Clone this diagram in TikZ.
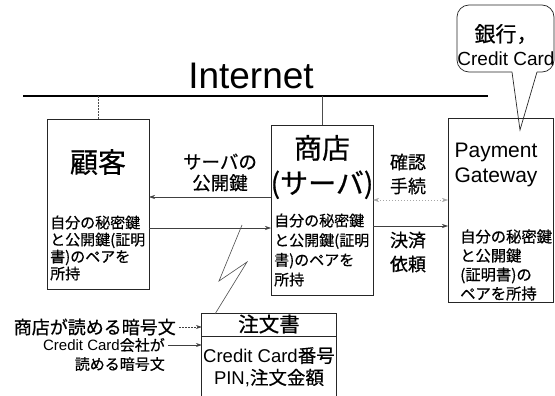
\documentclass[tikz,border=0pt]{standalone}
\usepackage{fontspec}
\setmainfont{Liberation Sans}
\newfontfamily\jp{Noto Sans CJK JP}[FakeBold=0.6]
\usetikzlibrary{arrows.meta,calc}
\newcommand{\fs}[2]{\fontsize{#1}{#2}\selectfont}
\begin{document}
\begin{tikzpicture}[x=1pt,y=-1pt,
  box/.style={draw=black!85, line width=0.7pt, inner sep=0, outer sep=0},
  boxline/.style={draw=black!85, line width=0.7pt},
  arr/.style={-{Stealth[length=6pt,width=4pt]}, draw=black!75, line width=0.6pt},
  darr/.style={{Stealth[length=6pt,width=4pt]}-{Stealth[length=6pt,width=4pt]}, draw=black!35, line width=0.5pt, dash pattern=on 1pt off 2pt},
  conn/.style={draw=black!70, line width=0.6pt},
  lbl/.style={inner sep=0, align=center},
  ]
\useasboundingbox (0,0) rectangle (555,396);

% Internet backbone
\coordinate (inL) at (23,96);
\coordinate (inR) at (488,96);
\draw[line width=2.6pt] (inL) -- (inR);
\node[lbl, font=\fs{37}{40}] (inet) at (251,76) {Internet};

% main boxes
\node[box, minimum width=102pt, minimum height=170pt] (cust) at (98,204) {};
\node[box, minimum width=102pt, minimum height=170pt] (store) at (322,210) {};
\node[box, minimum width=105pt, minimum height=184pt] (pg) at (500.5,210) {};

% drops from the Internet line
\coordinate (t1) at (98,96);
\coordinate (t2) at (322,96);
\draw[conn, dash pattern=on 2pt off 1pt] (t1) -- (cust.north);
\draw[conn] (t2) -- (store.north);

% titles
\node[lbl, font=\jp\fs{28}{34}] (custT) at (98,162) {顧客};
\node[lbl, font=\jp\fs{28}{35}] (storeT) at (322,167) {商店\\(サーバ)};
\node[lbl, font=\fs{21}{25}] (pgT) at (496,165) {Payment\\Gateway};

% inner texts
\node[lbl, align=left, anchor=west, font=\jp\fs{15}{17}] (custI) at (50,248) {自分の秘密鍵\\と公開鍵(証明\\書)のペアを\\所持};
\node[lbl, align=left, anchor=west, font=\jp\fs{15}{19.7}] (storeI) at (274,250) {自分の秘密鍵\\と公開鍵(証明\\書)のペアを\\所持};
\node[lbl, align=left, anchor=west, font=\jp\fs{15.3}{19}] (pgI) at (460,265) {自分の秘密鍵\\と公開鍵\\(証明書)の\\ペアを所持};

% labels between boxes
\node[lbl, font=\jp\fs{18.5}{21}] (keyL) at (220,172.5) {サーバの\\公開鍵};
\node[lbl, font=\jp\fs{18}{24}] (confL) at (408,174) {確認\\手続};
\node[lbl, font=\jp\fs{18}{24}] (payL) at (408,252) {決済\\依頼};

% arrows between boxes
\draw[arr] ($(store.west)+(0,-13)$) -- ($(cust.east)+(0,-7)$);
\draw[arr] ($(cust.east)+(0,24)$) -- ($(store.west)+(0,18)$);
\draw[darr] ($(store.east)+(0,-10)$) -- ($(pg.west)+(0,-10)$);
\draw[arr] ($(store.east)+(0,16)$) -- ($(pg.west)+(0,16)$);

% order form
\node[inner sep=0, minimum width=134pt, minimum height=84pt] (order) at (269,356) {};
\draw[boxline] (order.south west) -- (order.north west) -- (order.north east) -- (order.south east);
\coordinate (dL) at ($(order.north west)+(0,23)$);
\coordinate (dR) at ($(order.north east)+(0,23)$);
\draw[boxline] (dL) -- (dR);
\node[lbl, font=\jp\fs{20.5}{24}] (ordT) at (269,324) {注文書};
\node[lbl, font=\jp\fs{18.5}{22}] (ordB) at (269,367) {{\rmfamily Credit Card}番号\\{\rmfamily PIN,}注文金額};

% lightning
\coordinate (z1) at (242,225);
\coordinate (z2) at (219,281);
\coordinate (z3) at (247,262);
\coordinate (z4) at (215,314);
\draw[conn] (z1) -- (z2) -- (z3) -- (z4);

% left labels
\node[lbl, anchor=east, font=\jp\fs{18}{20}] (encS) at (176,327) {商店が読める暗号文};
\coordinate (sa) at ($(encS.east)+(3,0)$);
\draw[arr, dash pattern=on 2pt off 1pt] (sa) -- (sa -| order.west);
\node[lbl, anchor=east, align=right, font=\jp\fs{15}{19}] (encC) at (165,354.5) {{\rmfamily Credit Card}会社が\\読める暗号文};
\coordinate (cc) at ($(encC.east)+(3,-9.5)$);
\draw[arr] (cc) -- (cc -| order.west);

% callout
\node[lbl, font=\jp\fs{21}{24}] (bank) at (506,45) {銀行，\\{\rmfamily\fs{19}{24}Credit Card}};
\coordinate (tipL) at (512,72);
\coordinate (tipR) at (537,72);
\coordinate (tip) at (520,130);
\draw[boxline, rounded corners=12pt] (tipL) -- (457,72) -- (457,5) -- (554,5) -- (554,72) -- (tipR);
\draw[boxline] (tipL) -- (tip) -- (tipR);
\end{tikzpicture}
\end{document}
